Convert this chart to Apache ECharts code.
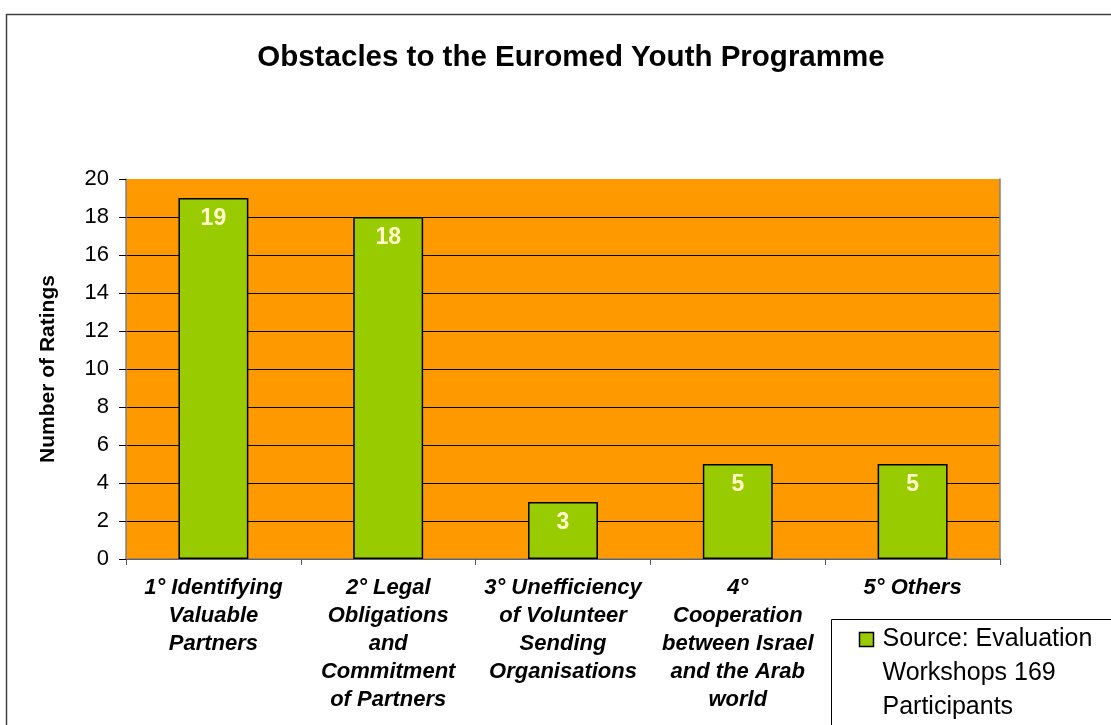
<!DOCTYPE html>
<html>
<head>
<meta charset="utf-8">
<script src="https://cdn.jsdelivr.net/npm/echarts@6/dist/echarts.min.js"></script>
<style>
html,body{margin:0;padding:0;background:#fff;}
#chart{width:1111px;height:725px;}
</style>
</head>
<body>
<div id="chart"></div>
<script>
const titleText = "Obstacles to the Euromed Youth Programme";
const categories = [
  "1° Identifying\nValuable\nPartners",
  "2° Legal\nObligations\nand\nCommitment\nof Partners",
  "3° Unefficiency\nof Volunteer\nSending\nOrganisations",
  "4°\nCooperation\nbetween Israel\nand the Arab\nworld",
  "5° Others"
];
const ratings = [19, 18, 3, 5, 5];
const seriesName = "Source: Evaluation\nWorkshops 169\nParticipants";
const yAxisName = "Number of Ratings";
const yMin = 0, yMax = 20, yStep = 2;

const chart = echarts.init(document.getElementById('chart'), null, {renderer: 'canvas'});
const FONT = '"Liberation Sans", Arial, sans-serif';

chart.setOption({
  animation: false,
  backgroundColor: '#ffffff',
  title: {
    text: titleText,
    left: 566,
    textAlign: 'center',
    top: 38,
    textStyle: {fontFamily: FONT, fontWeight: 'bold', fontSize: 29.5, color: '#000'}
  },
  grid: {
    left: 126, right: 111, top: 179, bottom: 166,
    show: true, backgroundColor: '#FF9900', borderWidth: 0
  },
  xAxis: {
    type: 'category',
    data: categories,
    axisLine: {show: true, lineStyle: {color: '#808080', width: 1.5}},
    axisTick: {show: true, alignWithLabel: false, length: 6, lineStyle: {color: '#555', width: 1}},
    axisLabel: {
      interval: 0, margin: 15,
      fontFamily: FONT, fontWeight: 'bold', fontStyle: 'italic', fontSize: 22,
      lineHeight: 28, color: '#000', align: 'center', verticalAlign: 'top'
    }
  },
  yAxis: [{
    type: 'value',
    min: yMin, max: yMax, interval: yStep,
    name: yAxisName,
    nameLocation: 'middle',
    nameGap: 67,
    nameRotate: 90,
    nameTextStyle: {fontFamily: FONT, fontWeight: 'bold', fontSize: 21, color: '#000'},
    axisLine: {show: true, lineStyle: {color: '#808080', width: 1.5}},
    axisTick: {show: true, length: 7, lineStyle: {color: '#000', width: 1}},
    axisLabel: {margin: 17, fontFamily: FONT, fontSize: 22, color: '#000'},
    splitLine: {show: true, showMaxLine: false, lineStyle: {color: '#000', width: 1}}
  }, {
    type: 'value',
    min: yMin, max: yMax, interval: yStep,
    position: 'right',
    axisLine: {show: true, lineStyle: {color: '#808080', width: 1.5}},
    axisTick: {show: false},
    axisLabel: {show: false},
    splitLine: {show: false}
  }],
  series: [{
    type: 'bar',
    name: seriesName,
    data: ratings,
    barWidth: '40%',
    itemStyle: {color: '#99CC00', borderColor: '#000', borderWidth: 1.5},
    label: {
      show: true, position: 'insideTop', distance: 9,
      fontFamily: FONT, fontWeight: 'bold', fontSize: 23, color: '#FFFFCC'
    }
  }],
  graphic: [
    {
      type: 'rect', left: 4, top: 12, silent: true,
      shape: {width: 1200, height: 800},
      style: {fill: 'none', stroke: '#404040', lineWidth: 1.5}
    },
    {
      type: 'group', left: 831, top: 619,
      children: [
        {type: 'rect', shape: {x: 0, y: 0, width: 300, height: 120},
         style: {fill: '#fff', stroke: '#000', lineWidth: 1}},
        {type: 'rect', shape: {x: 28, y: 13, width: 14, height: 14},
         style: {fill: '#99CC00', stroke: '#000', lineWidth: 1.5}},
        {type: 'text', x: 51, y: 3,
         style: {text: seriesName, fontFamily: FONT, fontSize: 25, lineHeight: 34, fill: '#000'}}
      ]
    }
  ]
});
</script>
</body>
</html>
